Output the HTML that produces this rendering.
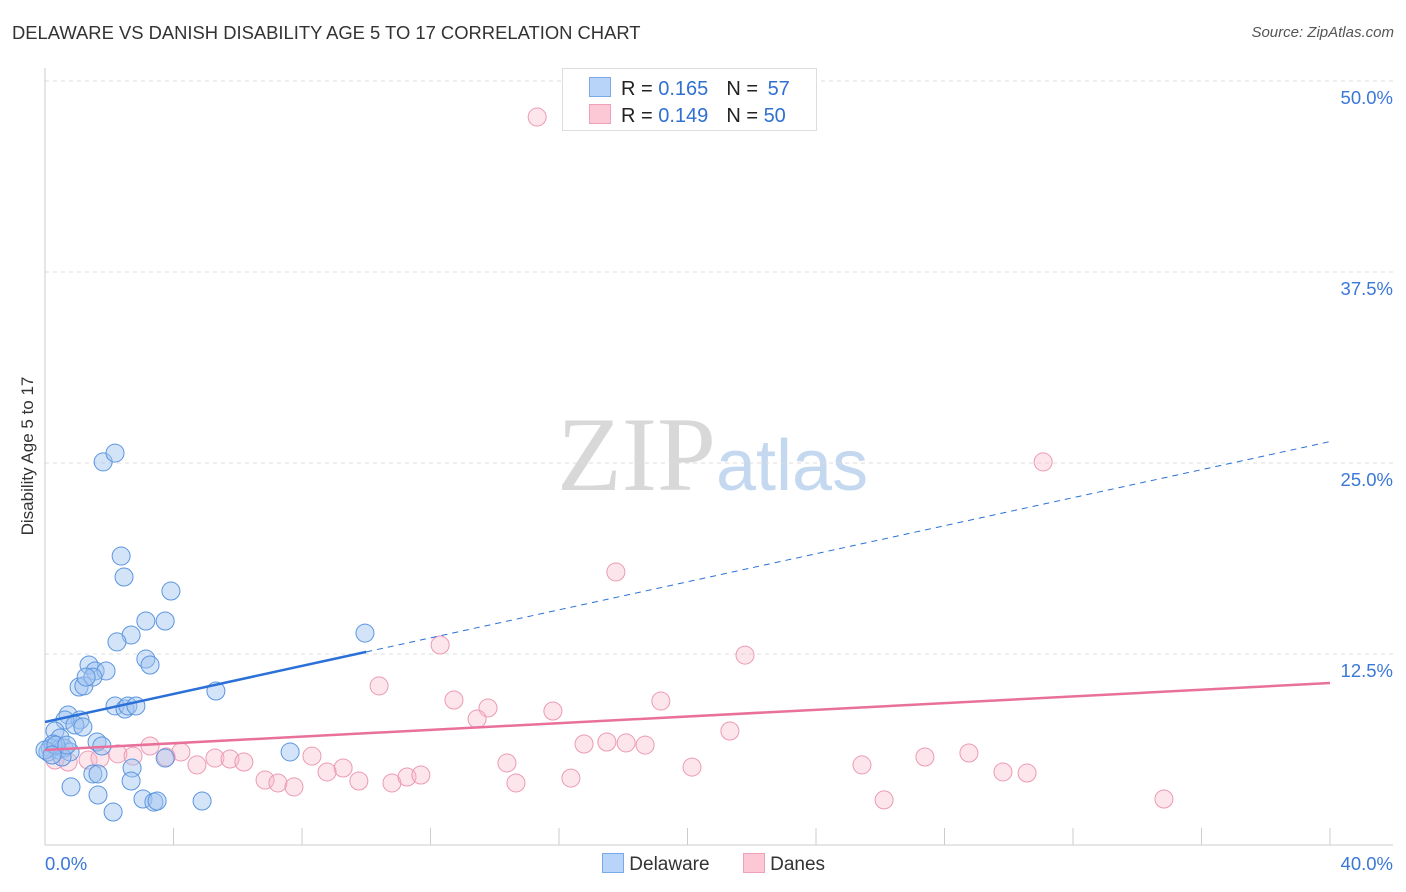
<!DOCTYPE html>
<html><head><meta charset="utf-8"><style>
body{margin:0;background:#fff;font-family:"Liberation Sans",sans-serif;}
#wrap{position:relative;width:1406px;height:892px;overflow:hidden;}
</style></head><body>
<div id="wrap">
<div style="position:absolute;left:12px;top:22px;font-size:18.4px;color:#333;">DELAWARE VS DANISH DISABILITY AGE 5 TO 17 CORRELATION CHART</div>
<div style="position:absolute;right:12px;top:24px;font-size:15px;color:#555;font-style:italic;">Source: ZipAtlas.com</div>
<div style="position:absolute;left:28px;top:456px;transform:translate(-50%,-50%) rotate(-90deg);font-size:17px;color:#333;white-space:nowrap;">Disability Age 5 to 17</div>
<svg id="plot" width="1406" height="892" style="position:absolute;left:0;top:0">
<text x="716" y="490" text-anchor="end" font-family="Liberation Serif" font-size="106" fill="#d8d8d8">ZIP</text>
<text x="716" y="490" font-family="Liberation Sans" font-size="72" fill="#c4d8f0">atlas</text>
</svg>
<div style="position:absolute;left:562px;top:68px;width:253px;height:61px;border:1px solid #ddd;background:#fff;font-size:20px;">
 <div style="position:absolute;left:26px;top:8px;"><span style="display:inline-block;width:20px;height:18px;background:#b8d4f8;border:1px solid #7aa8e8;vertical-align:-2px;"></span><span style="margin-left:10px;color:#222">R = </span><span style="color:#3070d0">0.165</span><span style="margin-left:18px;color:#222">N = </span><span style="color:#3070d0;margin-left:4px">57</span></div>
 <div style="position:absolute;left:26px;top:35px;"><span style="display:inline-block;width:20px;height:18px;background:#fcc8d6;border:1px solid #f0a0b8;vertical-align:-2px;"></span><span style="margin-left:10px;color:#222">R = </span><span style="color:#3070d0">0.149</span><span style="margin-left:18px;color:#222">N = </span><span style="color:#3070d0">50</span></div>
</div>
<div style="position:absolute;left:602px;top:853px;font-size:19px;color:#333;">
 <span><span style="display:inline-block;width:20px;height:18px;background:#b8d4f8;border:1px solid #7aa8e8;vertical-align:-3px;"></span> Delaware</span>
 <span style="margin-left:28px;"><span style="display:inline-block;width:20px;height:18px;background:#fcc8d6;border:1px solid #f0a0b8;vertical-align:-3px;"></span> Danes</span>
</div>
</div>
<script>
const xTicks=[0,40];
const yTicks=[12.5,25,37.5,50];
const blueX=[1.81,2.18,2.37,2.46,3.92,3.14,3.74,2.68,2.24,3.14,3.27,9.96,1.06,1.21,1.37,1.56,1.90,1.49,1.28,5.32,2.18,2.49,2.58,2.83,0.72,1.09,0.62,0.93,1.18,0.31,0.47,1.62,1.77,7.63,0.16,0.40,0.59,0.78,0.09,0.53,0.25,3.74,2.71,1.49,1.65,2.68,0.81,1.65,3.05,3.39,3.49,4.89,2.12,0,0.34,0.68,0.22];
const blueY=[25.07,25.65,18.91,17.54,16.62,14.66,14.66,13.74,13.29,12.17,11.78,13.87,10.34,10.41,11.78,11.39,11.39,10.99,10.99,10.08,9.10,8.90,9.10,9.10,8.51,8.18,8.18,7.85,7.72,7.46,7.00,6.74,6.48,6.09,6.35,6.22,6.35,6.09,6.09,5.76,6.61,5.69,5.04,4.65,4.65,4.19,3.80,3.27,3.01,2.81,2.88,2.88,2.16,6.22,6.54,6.54,5.89];
const pinkX=[15.32,31.07,17.77,12.30,21.79,10.40,12.73,13.79,13.45,15.81,19.17,21.32,16.78,17.49,18.09,18.68,3.27,4.23,2.27,2.74,3.77,5.29,5.76,6.19,4.73,8.31,9.28,8.78,6.85,7.25,7.75,9.77,10.80,11.27,11.70,14.38,14.66,16.37,20.14,25.43,27.39,28.76,29.82,30.57,26.12,34.83,0.31,0.72,1.34,1.71];
const pinkY=[47.64,25.07,17.87,13.09,12.43,10.41,9.49,8.97,8.25,8.77,9.42,7.46,6.61,6.74,6.68,6.54,6.48,6.09,5.96,5.82,5.76,5.69,5.63,5.43,5.24,5.82,5.04,4.78,4.25,4.06,3.80,4.19,4.06,4.45,4.58,5.37,4.06,4.38,5.10,5.24,5.76,6.02,4.78,4.71,2.95,3.01,5.56,5.43,5.56,5.69];
const blueTrend=[8.05,26.4];const blueSolidEnd=10.0;
const pinkTrend=[6.22,10.6];
const X=v=>45+v/40*1285, Y=v=>845-v/50*764;
const NS='http://www.w3.org/2000/svg', svg=document.getElementById('plot');
function mk(t,a){const e=document.createElementNS(NS,t);for(const k in a)e.setAttribute(k,a[k]);svg.appendChild(e);return e;}
yTicks.forEach(t=>{
 const g=mk('line',{x1:45,x2:1393,y1:Y(t),y2:Y(t),stroke:'#ddd','stroke-dasharray':'4,4'});
 
 
 const l=mk('text',{x:1393,y:Y(t)+23,'text-anchor':'end','font-size':18.5,fill:'#3a78d8','font-family':'Liberation Sans'});
 l.textContent=t.toFixed(1)+'%';
 
 
});
const ax=mk('line',{x1:45,x2:1393,y1:845,y2:845,stroke:'#ccc'});


const ay=mk('line',{x1:45,x2:45,y1:68,y2:845,stroke:'#ccc'});


for(let i=0;i<=10;i++){
 const tk=mk('line',{x1:X(i*4),x2:X(i*4),y1:828,y2:845,stroke:'#ccc'});
 
 
}
xTicks.forEach((t,i)=>{
 const l=mk('text',{x:i?1393:45,y:870,'text-anchor':i?'end':'start','font-size':18.5,fill:'#3a78d8','font-family':'Liberation Sans'});
 l.textContent=t.toFixed(1)+'%';
 
 
});
function dots(xs,ys,fill,stroke,name){xs.forEach((x,i)=>{
 const c=mk('circle',{cx:X(x),cy:Y(ys[i]),r:9,fill:fill,stroke:stroke,'stroke-width':1});
 
 
});}
dots(pinkX,pinkY,'rgba(248,180,200,0.35)','#ec9ab4','point-danes');
dots(blueX,blueY,'rgba(160,196,240,0.45)','#5b95e0','point-delaware');
const by=x=>blueTrend[0]+(blueTrend[1]-blueTrend[0])*x/40;
const b1=mk('line',{x1:X(0),y1:Y(by(0)),x2:X(blueSolidEnd),y2:Y(by(blueSolidEnd)),stroke:'#2a70d8','stroke-width':2.5});


const b2=mk('line',{x1:X(blueSolidEnd),y1:Y(by(blueSolidEnd)),x2:X(40),y2:Y(by(40)),stroke:'#2a70d8','stroke-width':1,'stroke-dasharray':'6,5'});


const p=mk('line',{x1:X(0),y1:Y(pinkTrend[0]),x2:X(40),y2:Y(pinkTrend[1]),stroke:'#e8709a','stroke-width':2.5});


</script>
</body></html>
